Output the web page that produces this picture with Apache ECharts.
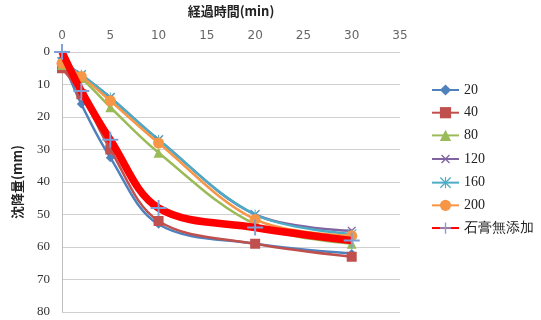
<!DOCTYPE html>
<html>
<head>
<meta charset="utf-8">
<script src="https://cdn.jsdelivr.net/npm/echarts@6/dist/echarts.min.js"></script>
<style>
  html, body { margin: 0; padding: 0; background: #fff; }
  #chart { width: 541px; height: 320px; }
</style>
</head>
<body>
<div id="chart"></div>
<script>
// Elapsed time (min) at which settlement was measured
var times = [0, 2, 5, 10, 20, 30];

// Settlement (mm) for each gypsum dosage
var s20   = [2, 16, 32.5, 53, 59, 62];
var s40   = [5, 13, 30, 52, 59, 63];
var s80   = [4, 8, 17, 31, 53, 59];
var s120  = [3, 7, 14, 27, 50, 55];
var s160  = [3, 7, 14, 27, 50, 56];
var s200  = [3.5, 7.5, 15, 28, 51.5, 56.5];
var sNone = [0, 12, 27, 48, 54, 58];

var seriesNames = ['20', '40', '80', '120', '160', '200', '石膏無添加'];

var serifFont = "'Liberation Serif', 'DejaVu Serif', serif";

function pairs(vals) {
  return times.map(function (t, i) { return [t, vals[i]]; });
}

var plusPath = 'path://M4.4,0H5.6V4.4H10V5.6H5.6V10H4.4V5.6H0V4.4H4.4Z';
var starPath = 'path://M4.5,0H5.5V10H4.5Z M0,0.8L0.8,0L10,9.2L9.2,10Z M9.2,0L10,0.8L0.8,10L0,9.2Z';

function lineSeries(name, vals, color, symbol, size, extra) {
  var s = {
    name: name,
    type: 'line',
    smooth: 0.35,
    data: pairs(vals),
    symbol: symbol,
    symbolSize: size,
    lineStyle: { color: color, width: 2.5 },
    itemStyle: { color: color },
    emphasis: { disabled: true }
  };
  if (extra) { for (var k in extra) s[k] = extra[k]; }
  return s;
}

var chart = echarts.init(document.getElementById('chart'));
chart.setOption({
  animation: false,
  backgroundColor: '#fff',
  grid: { left: 62, right: 141, top: 51, bottom: 8 },
  legend: {
    orient: 'vertical',
    left: 426,
    top: 78,
    itemWidth: 27,
    itemHeight: 14,
    itemGap: 8.7,
    textStyle: { fontFamily: serifFont, fontSize: 14, color: '#222' },
    data: seriesNames
  },
  xAxis: {
    type: 'value',
    position: 'top',
    min: 0, max: 35, interval: 5,
    name: '経過時間(min)',
    nameLocation: 'middle',
    nameGap: 34,
    nameTextStyle: { fontFamily: 'Noto Sans CJK JP', fontWeight: 'bold', fontSize: 13, color: '#222' },
    axisLine: { show: false },
    axisTick: { show: false },
    axisLabel: { color: '#666', fontFamily: 'DejaVu Sans', fontSize: 12, margin: 10 },
    splitLine: { show: false }
  },
  yAxis: {
    type: 'value',
    inverse: true,
    min: 0, max: 80, interval: 10,
    name: '沈降量(mm)',
    nameLocation: 'middle',
    nameGap: 38,
    nameTextStyle: { fontFamily: 'Noto Sans CJK JP', fontWeight: 'bold', fontSize: 13, color: '#222' },
    axisLine: { show: true, lineStyle: { color: '#bdbdbd', width: 1 } },
    axisTick: { show: false },
    axisLabel: { color: '#333', fontFamily: serifFont, fontSize: 13, margin: 12 },
    splitLine: { show: true, lineStyle: { color: '#d0d0d0', width: 1.2 } }
  },
  series: [
    lineSeries('20', s20, '#4F81BD', 'diamond', 9),
    lineSeries('40', s40, '#C0504D', 'rect', 10),
    lineSeries('80', s80, '#9BBB59', 'triangle', 10),
    lineSeries('120', s120, '#8064A2', plusPath, 11, { symbolRotate: 45 }),
    lineSeries('160', s160, '#4BACC6', starPath, 10),
    lineSeries('200', s200, '#F79646', 'circle', 11),
    {
      name: '石膏無添加',
      type: 'line',
      smooth: 0.35,
      data: pairs(sNone),
      symbol: plusPath,
      symbolSize: 16,
      lineStyle: { color: '#FF0000', width: 7.5 },
      itemStyle: { color: '#7F9FD8' },
      emphasis: { disabled: true },
      z: 5
    }
  ]
});
</script>
</body>
</html>
